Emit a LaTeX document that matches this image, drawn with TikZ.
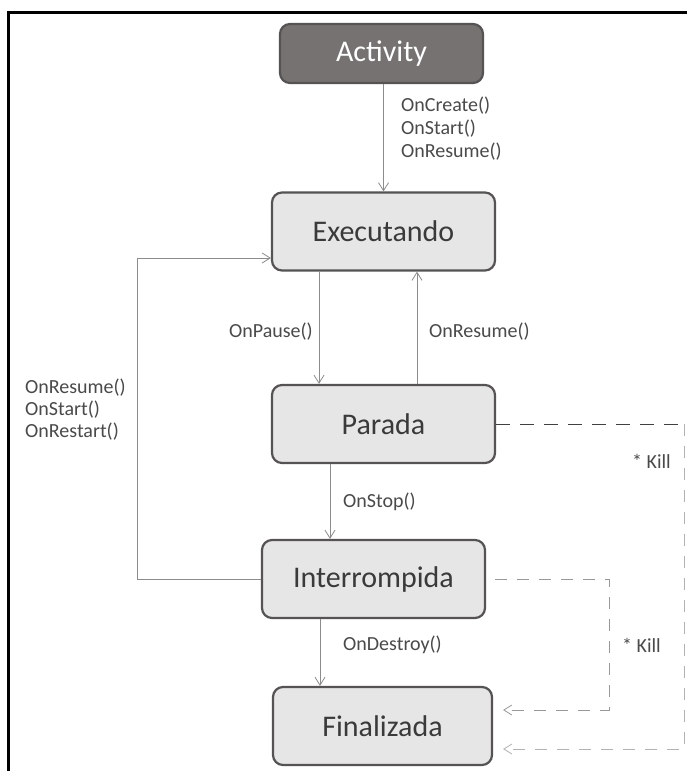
\documentclass[tikz,border=0pt]{standalone}
\usepackage{fontspec}
\setmainfont{Carlito}
\usetikzlibrary{arrows.meta,positioning,calc}
\definecolor{boxfill}{HTML}{E6E6E6}
\definecolor{boxline}{HTML}{555353}
\definecolor{actfill}{HTML}{777272}
\definecolor{conncol}{HTML}{8C8C8C}
\definecolor{labcol}{HTML}{4A4A4A}
\definecolor{txtcol}{HTML}{3A3A3A}
\tikzset{
  statebox/.style={draw=boxline, line width=2.2pt, fill=boxfill, rounded corners=10pt,
    minimum width=223pt, minimum height=78pt, inner sep=0pt,
    text=txtcol, font=\fontsize{30}{32}\selectfont},
  actbox/.style={statebox, fill=actfill, draw=boxline, text=white,
    minimum width=203pt, minimum height=59pt},
  conn/.style={draw=conncol, line width=0.8pt,
    -{Straight Barb[length=8pt,width=10pt,line width=0.8pt]}},
  killdark/.style={draw=black!75, line width=1pt, dash pattern=on 14pt off 10pt},
  killlight/.style={draw=gray!60, line width=1pt, dash pattern=on 12pt off 10pt,
    -{Straight Barb[length=8pt,width=10pt,line width=0.8pt]}, shorten >=10pt},
  lab/.style={text=labcol, font=\fontsize{20}{21}\selectfont, inner sep=0pt}
}
\begin{document}
\begin{tikzpicture}[x=1pt,y=-1pt]
\useasboundingbox (0,0) rectangle (686,771);
\fill[white] (0,0) rectangle (686,771);
% frame
\draw[line width=3pt] (8,775) -- (8,12) -- (690,12);

% states
\node[actbox] (act) at (381.5,53.5) {Activity};
\node[statebox] (exe) at (383.5,231.5) {Executando};
\node[statebox] (par) at (383.5,424) {Parada};
\node[statebox] (int) at (373.5,579) {Interrompida};
\node[statebox, minimum width=219pt] (fin) at (382.5,726) {Finalizada};

% helper coordinates
\coordinate (xpause) at (319,0);
\coordinate (xres) at (417,0);
\coordinate (xstop) at (330,0);
\coordinate (xdest) at (320,0);
\coordinate (xloop) at (137,0);
\coordinate (yloop) at (0,258);
\coordinate (kr) at (684,424);
\coordinate (krb) at (684,749);
\coordinate (ki) at (609,579);
\coordinate (kib) at (609,710);

% connectors
\draw[conn] (act.south -| exe.north) -- (exe.north);
\draw[conn] (exe.south -| xpause) -- (par.north -| xpause);
\draw[conn] (par.north -| xres) -- (exe.south -| xres);
\draw[conn] (par.south -| xstop) -- (int.north -| xstop);
\draw[conn] (int.south -| xdest) -- (fin.north -| xdest);
\draw[conn] (int.west) -| (xloop |- yloop) -- (exe.west |- yloop);

% kill paths
\draw[killdark] (par.east) -- (kr);
\draw[killlight] (kr) -- (krb) -- (fin.east |- krb);
\draw[killlight, draw=gray!80] ([xshift=9pt]int.east) -- (ki) -- (kib) -- (fin.east |- kib);

% labels
\node[lab, anchor=west] (lcreate) at (401,106) {OnCreate()};
\node[lab, anchor=west] (lstart) at (401,129) {OnStart()};
\node[lab, anchor=west] (lresume0) at (401,152) {OnResume()};
\node[lab, anchor=east] (lpause) at (313,332) {OnPause()};
\node[lab, anchor=west] (lresume) at (429,332) {OnResume()};
\node[lab, anchor=west] (lrres) at (25,388) {OnResume()};
\node[lab, anchor=west] (lrstart) at (25,410) {OnStart()};
\node[lab, anchor=west] (lrrestart) at (25,432) {OnRestart()};
\node[lab, anchor=west] (lstop) at (343,502) {OnStop()};
\node[lab, anchor=west] (ldestroy) at (343,645) {OnDestroy()};
\node[lab, anchor=west] (lkill1) at (632,461) {* Kill};
\node[lab, anchor=west] (lkill2) at (622,645) {* Kill};
\end{tikzpicture}
\end{document}
